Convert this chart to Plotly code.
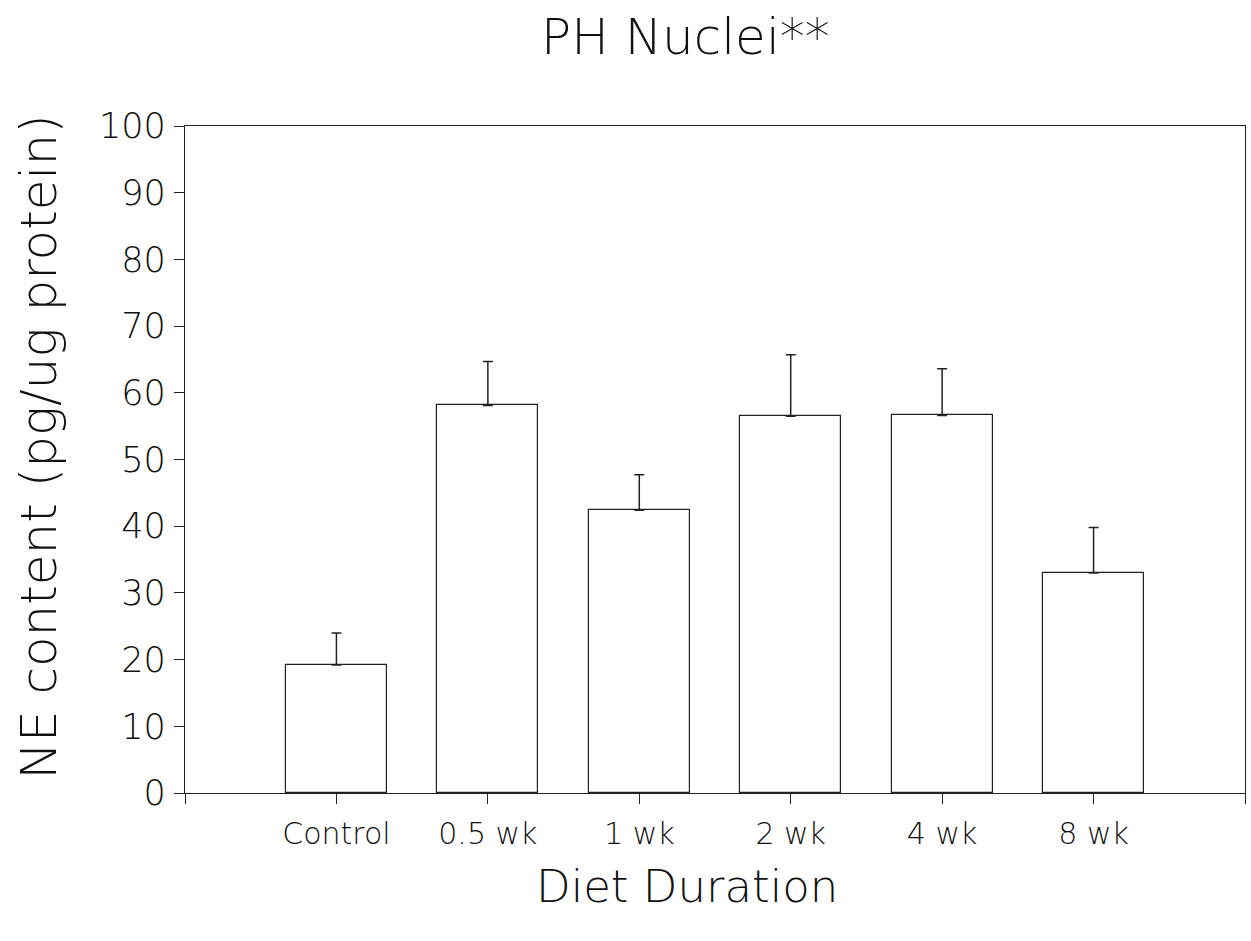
import plotly.graph_objects as go

categories = ["Control", "0.5 wk", "1 wk", "2 wk", "4 wk", "8 wk"]
means = [19.2, 58.1, 42.4, 56.5, 56.6, 33.0]
errors = [4.8, 6.6, 5.3, 9.2, 7.0, 6.8]
y_ticks = [0, 10, 20, 30, 40, 50, 60, 70, 80, 90, 100]

FONT = "DejaVu Sans"
positions = list(range(1, len(categories) + 1))

fig = go.Figure()
fig.add_trace(go.Bar(
    x=positions, y=means, width=0.667,
    marker=dict(color="white", line=dict(color="#222", width=1.2)),
    error_y=dict(type="data", array=errors, arrayminus=[0] * len(errors),
                 symmetric=False, color="#222", thickness=1.5, width=5),
    showlegend=False,
))

fig.update_layout(
    width=1251, height=941,
    margin=dict(l=185, r=6, t=126, b=148),
    paper_bgcolor="white", plot_bgcolor="white",
    font=dict(family=FONT, color="#111", weight=200),
    bargap=0,
)
fig.update_xaxes(
    range=[0, 7], tickmode="array",
    tickvals=[0] + positions + [7], ticktext=[""] + categories + [""],
    ticks="outside", ticklen=10, tickwidth=1.2, tickcolor="#222",
    showline=True, linecolor="#222", linewidth=1.2, mirror=True,
    showgrid=False, zeroline=False,
    tickfont=dict(size=30, family=FONT, weight=200), ticklabelstandoff=4,
)
fig.update_yaxes(
    range=[0, 100], tickmode="array", tickvals=y_ticks,
    ticks="outside", ticklen=10, tickwidth=1.2, tickcolor="#222",
    showline=True, linecolor="#222", linewidth=1.2, mirror=True,
    showgrid=False, zeroline=False,
    tickfont=dict(size=35, family=FONT, weight=200), ticklabelstandoff=1,
)
fig.add_annotation(text="PH Nuclei**", xref="paper", yref="paper",
                   x=0.472, y=1.0, yshift=120, showarrow=False,
                   font=dict(size=50, family=FONT, weight=200))
fig.add_annotation(text="Diet Duration", xref="paper", yref="paper",
                   x=0.474, y=0.0, yshift=-122, showarrow=False,
                   font=dict(size=45, family=FONT, weight=200))
fig.add_annotation(text="NE content (pg/ug protein)", xref="paper", yref="paper",
                   x=0.0, xshift=-177, y=0.518, textangle=-90, showarrow=False,
                   font=dict(size=50, family=FONT, weight=200))

fig.write_html("out.html")
